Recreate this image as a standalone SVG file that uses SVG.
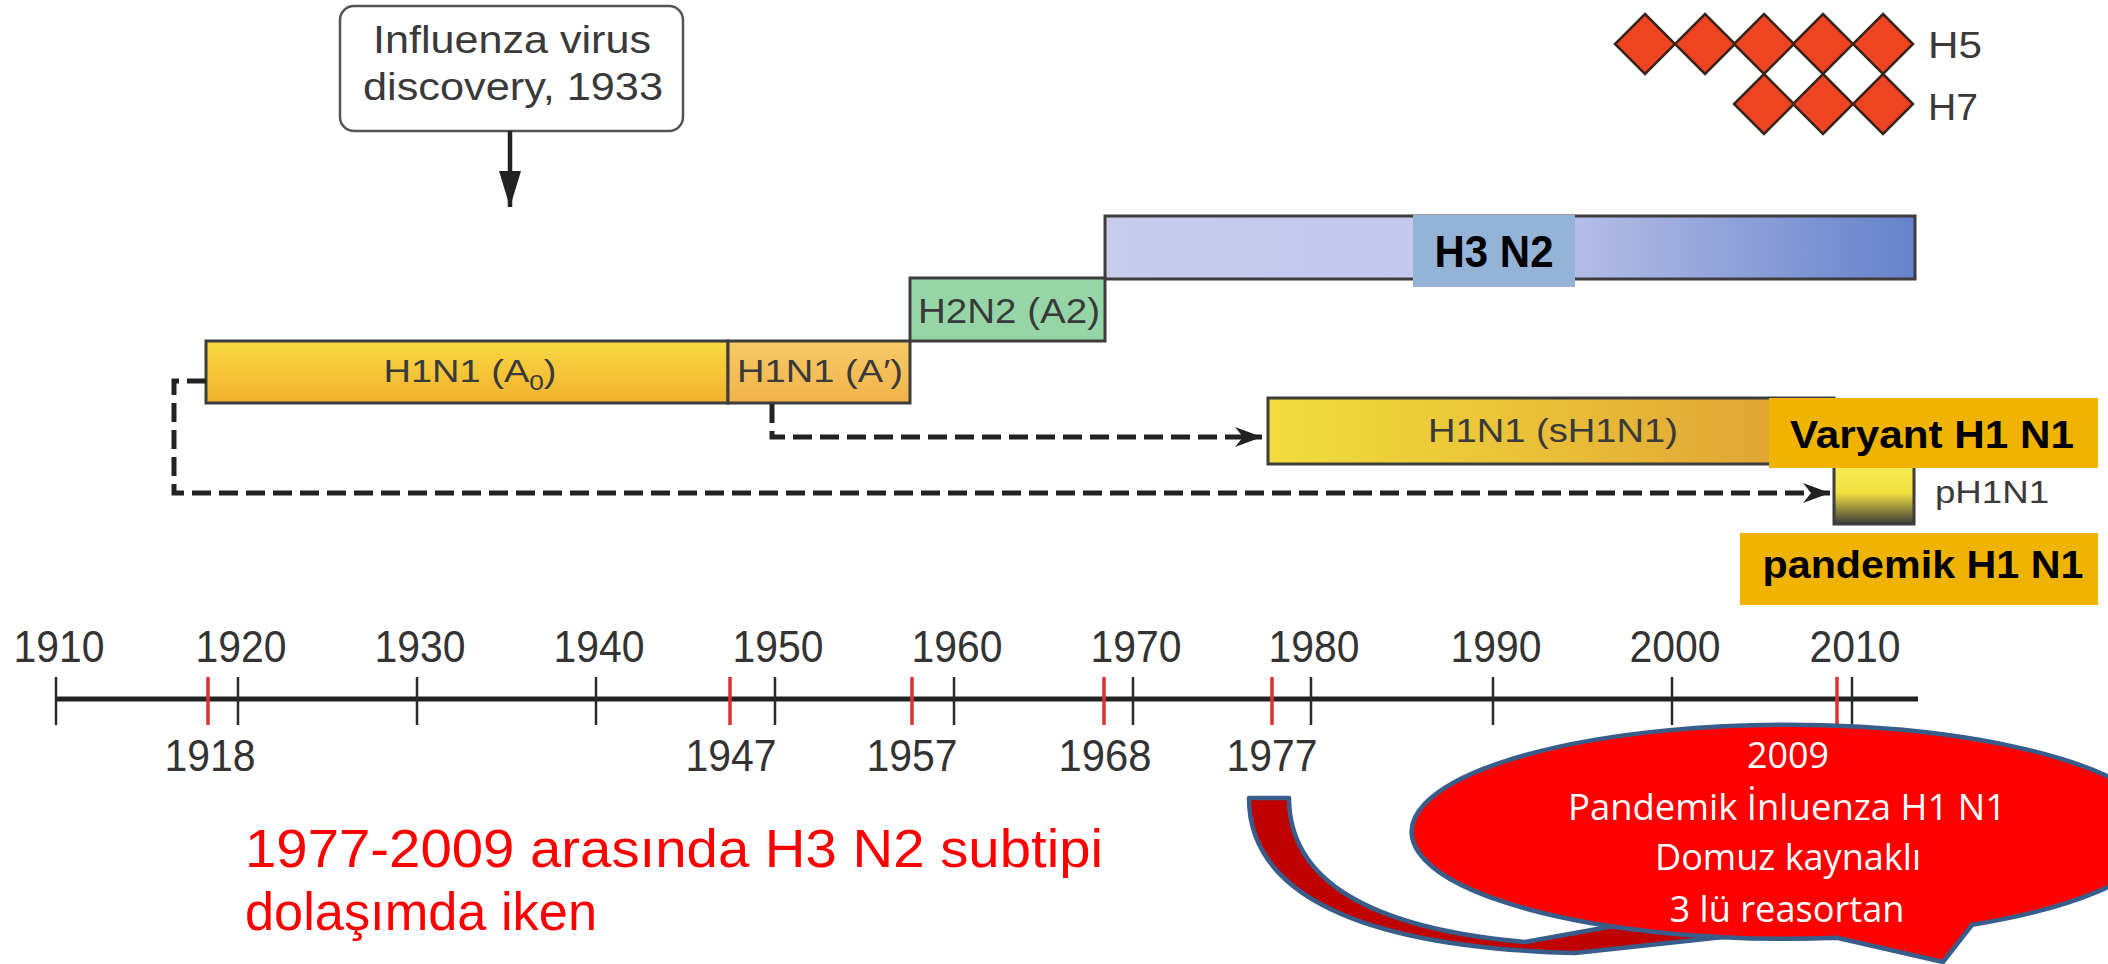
<svg xmlns="http://www.w3.org/2000/svg" width="2108" height="964" viewBox="0 0 2108 964">
<style>
  .lbl{font-family:"Liberation Sans",Arial,sans-serif;fill:#3a3a3a}
  .bar{stroke:#3d3d3d;stroke-width:3}
  .yr{font-family:"Liberation Sans",Arial,sans-serif;font-size:44px;fill:#333;text-anchor:middle}
  .tick{stroke:#2a2a2a;stroke-width:2.5}
  .rtick{stroke:#e03030;stroke-width:3.5}
  .dash{fill:none;stroke:#222;stroke-width:5;stroke-dasharray:19 8}
  .tag{fill:#f0b400}
  .tagt{font-family:"Liberation Sans",Arial,sans-serif;font-weight:bold;fill:#000;text-anchor:middle}
  .bub{font-family:"Open Sans","Liberation Sans",sans-serif;font-size:36px;fill:#fff;text-anchor:middle}
  .red{font-family:"Liberation Sans",Arial,sans-serif;font-size:54px;fill:#ff0000}
  .dia{fill:#ee4422;stroke:#3a2418;stroke-width:2.5}
</style>
<defs>
  <linearGradient id="gA0" x1="0" y1="0" x2="0" y2="1"><stop offset="0" stop-color="#f8da44"/><stop offset="1" stop-color="#f2b02e"/></linearGradient>
  <linearGradient id="gA1" x1="0" y1="0" x2="0" y2="1"><stop offset="0" stop-color="#f7cb66"/><stop offset="1" stop-color="#f2b24a"/></linearGradient>
  <linearGradient id="gH3" x1="0" y1="0" x2="1" y2="0"><stop offset="0" stop-color="#c7cbec"/><stop offset="0.5" stop-color="#c3c8eb"/><stop offset="1" stop-color="#6682cb"/></linearGradient>
  <linearGradient id="gS" x1="0" y1="0" x2="1" y2="0"><stop offset="0" stop-color="#f2dd3c"/><stop offset="1" stop-color="#df9f34"/></linearGradient>
  <linearGradient id="gP" x1="0" y1="0" x2="0" y2="1"><stop offset="0" stop-color="#f6ee5a"/><stop offset="0.5" stop-color="#efe03e"/><stop offset="1" stop-color="#3c3c3c"/></linearGradient>
  <marker id="stealth" markerUnits="userSpaceOnUse" markerWidth="32" markerHeight="26" viewBox="-29 -13 32 26" refX="0" refY="0" orient="auto">
    <path d="M0,0 L-27,-10 L-19,0 L-27,10 Z" fill="#222"/>
  </marker>
  <marker id="tri" markerUnits="userSpaceOnUse" markerWidth="40" markerHeight="30" viewBox="-38 -14 40 28" refX="0" refY="0" orient="auto">
    <path d="M0,0 L-36,-11 L-36,11 Z" fill="#222"/>
  </marker>
  <path id="dm" d="M0,-30 L30,0 L0,30 L-30,0 Z"/>
</defs>

<!-- Discovery note -->
<g id="discovery">
  <rect x="340" y="6" width="343" height="125" rx="14" fill="#fff" stroke="#555" stroke-width="2.5"/>
  <text class="lbl" x="512" y="53" font-size="38" text-anchor="middle" textLength="278" lengthAdjust="spacingAndGlyphs">Influenza virus</text>
  <text class="lbl" x="513" y="100" font-size="38" text-anchor="middle" textLength="300" lengthAdjust="spacingAndGlyphs">discovery, 1933</text>
</g>

<!-- H5/H7 legend -->
<g id="h5h7">
  <use href="#dm" class="dia" x="1645" y="44"/>
  <use href="#dm" class="dia" x="1705" y="44"/>
  <use href="#dm" class="dia" x="1764" y="44"/>
  <use href="#dm" class="dia" x="1823" y="44"/>
  <use href="#dm" class="dia" x="1883" y="44"/>
  <use href="#dm" class="dia" x="1764" y="104"/>
  <use href="#dm" class="dia" x="1823" y="104"/>
  <use href="#dm" class="dia" x="1883" y="104"/>
  <text class="lbl" x="1928" y="58" font-size="36" fill="#444" textLength="54" lengthAdjust="spacingAndGlyphs">H5</text>
  <text class="lbl" x="1928" y="120" font-size="36" fill="#444" textLength="50" lengthAdjust="spacingAndGlyphs">H7</text>
</g>

<!-- Bars -->
<g id="h3n2">
  <rect class="bar" x="1105" y="216" width="810" height="63" fill="url(#gH3)"/>
</g>
<g id="h2n2">
  <rect class="bar" x="910" y="278" width="195" height="63" fill="#96d6a6" stroke="#3c4c40"/>
  <text class="lbl" x="1009" y="323" font-size="35" fill="#2d3d30" text-anchor="middle" textLength="182" lengthAdjust="spacingAndGlyphs">H2N2 (A2)</text>
</g>
<g id="h1n1-a0">
  <rect class="bar" x="206" y="341" width="522" height="62" fill="url(#gA0)"/>
  <text class="lbl" x="470" y="382" font-size="32" fill="#3b2f10" text-anchor="middle" textLength="173" lengthAdjust="spacingAndGlyphs">H1N1 (A<tspan font-size="22" dy="8">0</tspan><tspan dy="-8">)</tspan></text>
</g>
<g id="h1n1-a1">
  <rect class="bar" x="728" y="341" width="182" height="62" fill="url(#gA1)"/>
  <text class="lbl" x="820" y="382" font-size="32" fill="#3b2f10" text-anchor="middle" textLength="166" lengthAdjust="spacingAndGlyphs">H1N1 (A′)</text>
</g>
<g id="sh1n1">
  <rect class="bar" x="1268" y="398" width="566" height="66" fill="url(#gS)"/>
  <text class="lbl" x="1553" y="442" font-size="33" fill="#3b2f10" text-anchor="middle" textLength="250" lengthAdjust="spacingAndGlyphs">H1N1 (sH1N1)</text>
</g>
<g id="ph1n1">
  <rect class="bar" x="1834" y="462" width="80" height="62" fill="url(#gP)"/>
  <text class="lbl" x="1935" y="503" font-size="31" fill="#555" textLength="114" lengthAdjust="spacingAndGlyphs">pH1N1</text>
</g>

<!-- Connectors -->
<g id="connectors">
  <line x1="510" y1="131" x2="510" y2="207" stroke="#222" stroke-width="4.5" marker-end="url(#tri)"/>
  <path class="dash" d="M206,381 L174,381 L174,493 L1830,493" marker-end="url(#stealth)"/>
  <path class="dash" d="M772,404 L772,437 L1262,437" marker-end="url(#stealth)"/>
</g>

<!-- Overlaid labels -->
<g id="h3n2-label">
  <rect x="1413" y="215" width="162" height="72" fill="#95b3d7"/>
  <text class="tagt" x="1494" y="267" font-size="44" textLength="119" lengthAdjust="spacingAndGlyphs">H3 N2</text>
</g>
<g id="varyant-label">
  <rect class="tag" x="1769" y="398" width="329" height="70"/>
  <text class="tagt" x="1932" y="448" font-size="39" textLength="284" lengthAdjust="spacingAndGlyphs">Varyant H1 N1</text>
</g>
<g id="pandemik-label">
  <rect class="tag" x="1740" y="533" width="358" height="72"/>
  <text class="tagt" x="1923" y="578" font-size="39" textLength="321" lengthAdjust="spacingAndGlyphs">pandemik H1 N1</text>
</g>

<!-- Timeline -->
<g id="timeline">
  <line x1="56" y1="699" x2="1918" y2="699" stroke="#222" stroke-width="5"/>
  <line class="tick" x1="56" y1="677" x2="56" y2="725"/>
  <line class="tick" x1="238" y1="677" x2="238" y2="725"/>
  <line class="tick" x1="417" y1="677" x2="417" y2="725"/>
  <line class="tick" x1="596" y1="677" x2="596" y2="725"/>
  <line class="tick" x1="775" y1="677" x2="775" y2="725"/>
  <line class="tick" x1="954" y1="677" x2="954" y2="725"/>
  <line class="tick" x1="1133" y1="677" x2="1133" y2="725"/>
  <line class="tick" x1="1311" y1="677" x2="1311" y2="725"/>
  <line class="tick" x1="1493" y1="677" x2="1493" y2="725"/>
  <line class="tick" x1="1672" y1="677" x2="1672" y2="725"/>
  <line class="tick" x1="1852" y1="677" x2="1852" y2="725"/>
  <line class="rtick" x1="208" y1="677" x2="208" y2="725"/>
  <line class="rtick" x1="730" y1="677" x2="730" y2="725"/>
  <line class="rtick" x1="912" y1="677" x2="912" y2="725"/>
  <line class="rtick" x1="1104" y1="677" x2="1104" y2="725"/>
  <line class="rtick" x1="1272" y1="677" x2="1272" y2="725"/>
  <line class="rtick" x1="1837" y1="677" x2="1837" y2="725"/>
  <text class="yr" x="59" y="662" textLength="91" lengthAdjust="spacingAndGlyphs">1910</text>
  <text class="yr" x="241" y="662" textLength="91" lengthAdjust="spacingAndGlyphs">1920</text>
  <text class="yr" x="420" y="662" textLength="91" lengthAdjust="spacingAndGlyphs">1930</text>
  <text class="yr" x="599" y="662" textLength="91" lengthAdjust="spacingAndGlyphs">1940</text>
  <text class="yr" x="778" y="662" textLength="91" lengthAdjust="spacingAndGlyphs">1950</text>
  <text class="yr" x="957" y="662" textLength="91" lengthAdjust="spacingAndGlyphs">1960</text>
  <text class="yr" x="1136" y="662" textLength="91" lengthAdjust="spacingAndGlyphs">1970</text>
  <text class="yr" x="1314" y="662" textLength="91" lengthAdjust="spacingAndGlyphs">1980</text>
  <text class="yr" x="1496" y="662" textLength="91" lengthAdjust="spacingAndGlyphs">1990</text>
  <text class="yr" x="1675" y="662" textLength="91" lengthAdjust="spacingAndGlyphs">2000</text>
  <text class="yr" x="1855" y="662" textLength="91" lengthAdjust="spacingAndGlyphs">2010</text>
  <text class="yr" x="210" y="771" textLength="91" lengthAdjust="spacingAndGlyphs">1918</text>
  <text class="yr" x="731" y="771" textLength="91" lengthAdjust="spacingAndGlyphs">1947</text>
  <text class="yr" x="912" y="771" textLength="91" lengthAdjust="spacingAndGlyphs">1957</text>
  <text class="yr" x="1105" y="771" textLength="93" lengthAdjust="spacingAndGlyphs">1968</text>
  <text class="yr" x="1272" y="771" textLength="91" lengthAdjust="spacingAndGlyphs">1977</text>
</g>

<!-- Red note -->
<g id="note">
  <text class="red" x="245" y="867" textLength="858" lengthAdjust="spacingAndGlyphs">1977-2009 arasında H3 N2 subtipi</text>
  <text class="red" x="245" y="930" textLength="352" lengthAdjust="spacingAndGlyphs">dolaşımda iken</text>
</g>

<!-- Curved arrow -->
<g id="curved-arrow">
  <path d="M1249,798 L1289,798 C1289,878 1365,928 1525,942 L1625,924 L1770,932 L1575,953 C1335,947 1249,882 1249,798 Z" fill="#c00000" stroke="#385d8a" stroke-width="4.5" stroke-linejoin="round"/>
</g>

<!-- Callout bubble -->
<g id="callout">
  <path d="M1972,924.8 A375,107 0 1 0 1837,937.8 L1943,962 Z" fill="#ff0000" stroke="#385d8a" stroke-width="4.5" stroke-linejoin="miter"/>
  <text class="bub" x="1788" y="768" textLength="82" lengthAdjust="spacingAndGlyphs">2009</text>
  <text class="bub" x="1787" y="820" textLength="438" lengthAdjust="spacingAndGlyphs">Pandemik İnluenza H1 N1</text>
  <text class="bub" x="1788" y="870" textLength="266" lengthAdjust="spacingAndGlyphs">Domuz kaynaklı</text>
  <text class="bub" x="1787" y="922" textLength="235" lengthAdjust="spacingAndGlyphs">3 lü reasortan</text>
</g>
</svg>
